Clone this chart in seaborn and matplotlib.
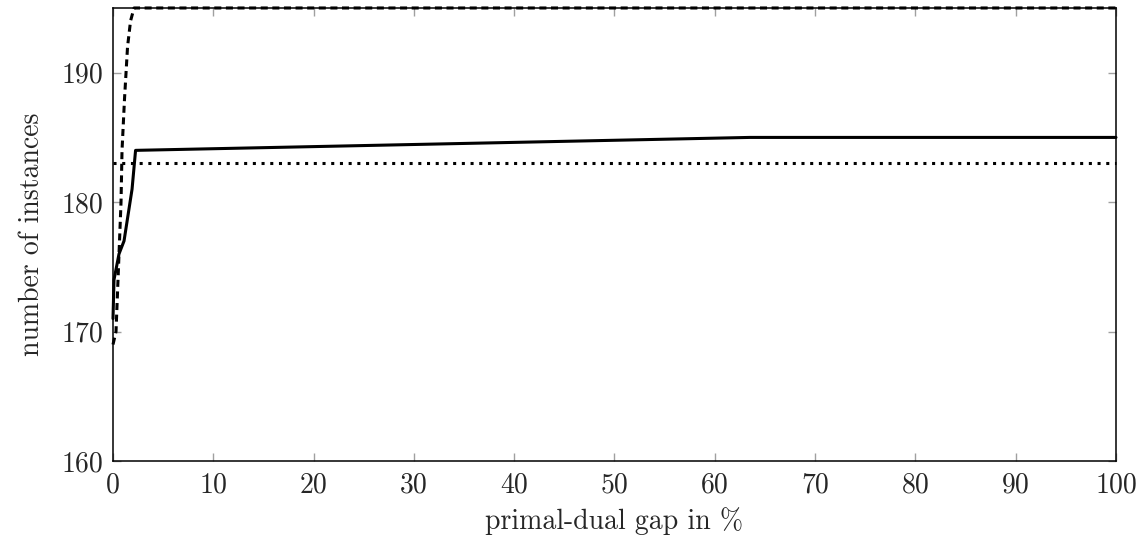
import matplotlib
matplotlib.use("Agg")
import matplotlib.pyplot as plt
import seaborn as sns
import pandas as pd

# Cumulative number of instances solved within a given primal-dual gap
gap_a = [0.0, 0.1, 0.6, 1.1, 1.9, 2.25, 63.5, 100.0]
count_a = [171, 174, 176, 177, 181, 184, 185, 185]

gap_b = [0.0, 0.3, 0.5, 0.8, 0.9, 1.15, 1.45, 1.75, 2.1, 100.0]
count_b = [169, 170, 174, 180, 184, 188, 192, 194, 195, 195]

gap_c = [0.0, 100.0]
count_c = [183, 183]

x_ticks = [0, 10, 20, 30, 40, 50, 60, 70, 80, 90, 100]
y_ticks = [160, 170, 180, 190]

frames = []
for name, g, c in [("A", gap_a, count_a), ("B", gap_b, count_b), ("C", gap_c, count_c)]:
    frames.append(pd.DataFrame({"gap": g, "count": c, "variant": name}))
df = pd.concat(frames, ignore_index=True)

sns.set_theme(style="white")
plt.rcParams["font.family"] = ["cmr10", "DejaVu Serif"]
plt.rcParams["mathtext.fontset"] = "cm"
plt.rcParams["axes.formatter.use_mathtext"] = True
plt.rcParams["axes.unicode_minus"] = False

fig = plt.figure(figsize=(11.46, 5.43), dpi=100)
ax = fig.add_axes([0.0986, 0.151, 0.8752, 0.8343])

lw = 2.2
sns.lineplot(
    data=df, x="gap", y="count", style="variant",
    dashes={"A": "", "B": (2.3, 1.5), "C": (1.0, 1.85)},
    color="black", linewidth=lw, estimator=None, sort=False,
    legend=False, ax=ax,
)
for line in ax.get_lines():
    line.set_dash_capstyle("butt")
    line.set_clip_on(False)

ax.set_xlim(0, 100)
ax.set_ylim(160, 195)
ax.set_xticks(x_ticks)
ax.set_yticks(y_ticks)
ax.set_xticklabels([str(t) for t in x_ticks])
ax.set_yticklabels([str(t) for t in y_ticks])

ax.tick_params(axis="both", which="both", direction="in", length=6, width=1.0,
               color="#a0a0a0", top=True, right=True, bottom=True, left=True,
               labelsize=20)
ax.tick_params(axis="x", pad=8)
ax.tick_params(axis="y", pad=7)
for s in ax.spines.values():
    s.set_color("black")
    s.set_linewidth(1.1)

ax.set_xlabel("primal-dual gap in %", fontsize=20, labelpad=6)
ax.set_ylabel("number of instances", fontsize=20, labelpad=12)

fig.savefig("out.png", dpi=100)
